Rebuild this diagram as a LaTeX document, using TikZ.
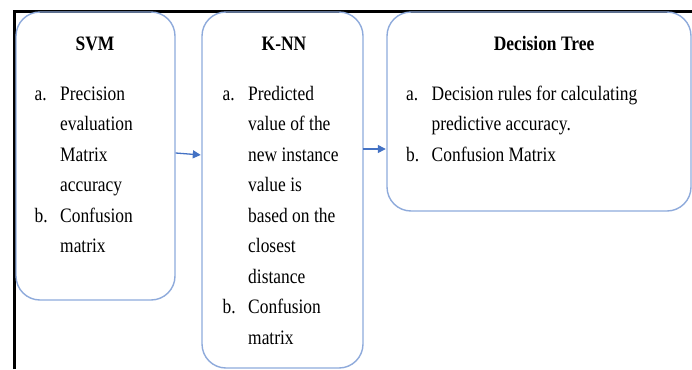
\documentclass[tikz,border=0pt]{standalone}
\usepackage{fontspec}
\setmainfont{Liberation Serif}[FakeStretch=0.85]
\usepackage{xcolor}
\usepackage{tikz}
\usetikzlibrary{arrows.meta,positioning,calc}
\definecolor{boxblue}{HTML}{8EAADB}
\definecolor{flowblue}{HTML}{4472C4}

\begin{document}
\begin{tikzpicture}[
  x=1pt, y=-1pt,
  box/.style={draw=boxblue, line width=1.4pt, rounded corners=24pt, inner sep=0pt},
  title/.style={font=\fontsize{20.5}{24}\selectfont\bfseries, anchor=base, inner sep=0pt},
  item/.style={font=\fontsize{20.5}{24}\selectfont, anchor=base west, inner sep=0pt},
  flow/.style={draw=flowblue, line width=1.3pt, shorten >=0.5pt,
    -{Triangle[length=8pt, width=8pt]}},
]
  \useasboundingbox (0,0) rectangle (692,369);
  \def\lh{30.5}  % line spacing

  % outer frame
  \draw[line width=2.6pt] (14.5,369) -- (14.5,11.5) -- (692,11.5);

  % the three boxes
  \node[box, minimum width=159pt, minimum height=288pt] (svm) at (95.5,156) {};
  \node[box, minimum width=161pt, minimum height=356pt] (knn) at (282.5,190) {};
  \node[box, minimum width=304pt, minimum height=199pt] (dt) at (539,111.5) {};

  % titles
  \node[title] (svmtitle) at (95,51) {SVM};
  \node[title] (knntitle) at (284,51) {K-NN};
  \node[title] (dttitle) at (544,51) {Decision Tree};

  % SVM items
  \node[item] (svma) at (34.5,100) {a.};
  \node[item] (svmb) at (34.5,100+4*\lh) {b.};
  \foreach \txt [count=\i from 0] in {Precision, evaluation, Matrix, accuracy, Confusion, matrix}
    \node[item] (svmline\i) at (60,100+\i*\lh) {\txt};

  % K-NN items
  \node[item] (knna) at (222.5,100) {a.};
  \node[item] (knnb) at (222.5,100+7*\lh) {b.};
  \foreach \txt [count=\i from 0] in {Predicted, value of the, new instance, value is,
      based on the, closest, distance, Confusion, matrix}
    \node[item] (knnline\i) at (248,100+\i*\lh) {\txt};

  % Decision Tree items
  \node[item] (dta) at (406,100) {a.};
  \node[item] (dtb) at (406,100+2*\lh) {b.};
  \foreach \txt [count=\i from 0] in {Decision rules for calculating, predictive accuracy., Confusion Matrix}
    \node[item] (dtline\i) at (431.5,100+\i*\lh) {\txt};

  % arrows
  \coordinate (k2d) at (363,149);
  \draw[flow] (svm.east |- 0,153) -- (knn.west |- 0,155);
  \draw[flow] (k2d) -- (dt.west |- k2d);
\end{tikzpicture}
\end{document}
